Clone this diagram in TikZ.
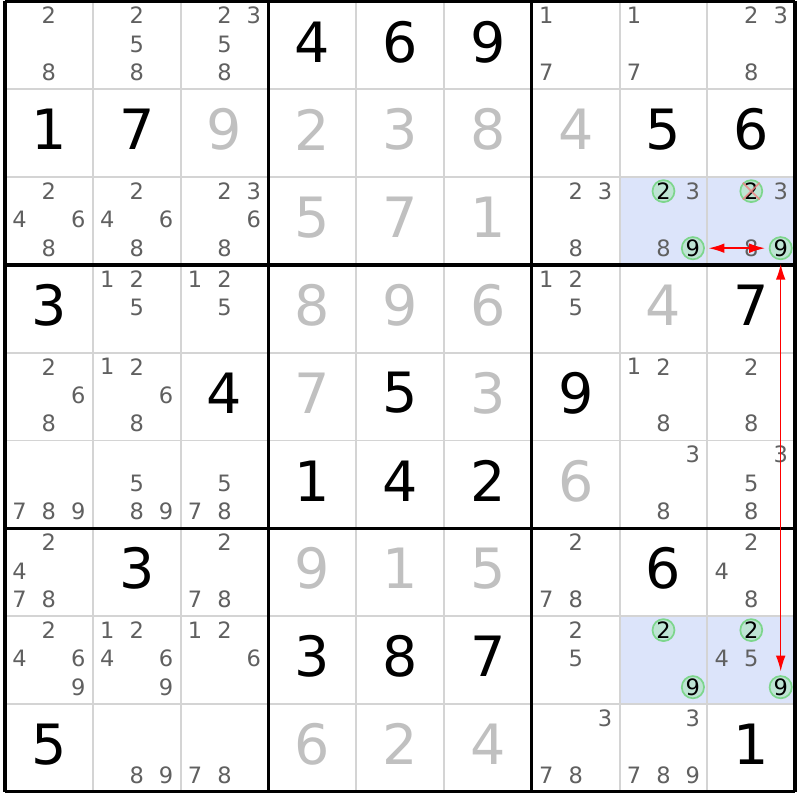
\documentclass[tikz,border=0pt]{standalone}
\usepackage{fontspec}
\setmainfont{DejaVu Sans}
\usetikzlibrary{arrows.meta}
\definecolor{candgray}{RGB}{96,96,96}
\definecolor{solvedgray}{RGB}{192,192,192}
\definecolor{gridgray}{RGB}{212,212,212}
\definecolor{pickblue}{RGB}{220,228,250}
\definecolor{ringgreen}{RGB}{125,214,140}
\definecolor{ringfill}{RGB}{190,228,212}
\definecolor{crossred}{RGB}{240,130,130}

\begin{document}
\begin{tikzpicture}[x=1cm,y=-1cm,
	given/.style={font=\fontsize{18}{18}\selectfont,inner sep=0pt},
	solved/.style={given,text=solvedgray},
	cand/.style={font=\fontsize{7.3}{7.3}\selectfont,text=candgray,inner sep=0pt},
	ring/.style={circle,draw=ringgreen,fill=ringfill,line width=0.55pt,minimum size=0.25cm,inner sep=0pt,font=\fontsize{7.3}{7.3}\selectfont},
	cellline/.style={gridgray,line width=0.6pt},
	boxline/.style={black,line width=1.1pt},
	link/.style={red,line width=0.5pt,>={Latex[length=1.8mm,width=1.1mm]},shorten >=1.2pt,shorten <=1.2pt}]
	\path[use as bounding box,fill=white] (-0.057,-0.017) rectangle (9.055,9.094);
	% highlighted cells
	\foreach \r/\c in {3/8,3/9,8/8,8/9}
		\fill[pickblue] (\c-1,\r-1) rectangle (\c,\r);
	% grid
	\foreach \i in {1,...,8} {
		\draw[cellline] (\i,0) -- (\i,9);
		\draw[cellline] (0,\i) -- (9,\i);
	}
	\foreach \i in {0,3,6,9} {
		\draw[boxline] (\i,0) -- (\i,9);
		\draw[boxline] (0,\i) -- (9,\i);
	}
	% givens and solved cells
	\foreach \r/\c/\d in {1/4/4,1/5/6,1/6/9,2/1/1,2/2/7,2/8/5,2/9/6,4/1/3,4/9/7,5/3/4,5/5/5,5/7/9,
		6/4/1,6/5/4,6/6/2,7/2/3,7/8/6,8/4/3,8/5/8,8/6/7,9/1/5,9/9/1}
		\node[given] (c\r\c) at (\c-0.5,\r-0.54) {\d};
	\foreach \r/\c/\d in {2/3/9,2/4/2,2/5/3,2/6/8,2/7/4,3/4/5,3/5/7,3/6/1,4/4/8,4/5/9,4/6/6,4/8/4,
		5/4/7,5/6/3,6/7/6,7/4/9,7/5/1,7/6/5,9/4/6,9/5/2,9/6/4}
		\node[solved] (c\r\c) at (\c-0.5,\r-0.54) {\d};
	% candidates
	\foreach \r/\c/\L in {1/1/{2,8},1/2/{2,5,8},1/3/{2,3,5,8},1/7/{1,7},1/8/{1,7},1/9/{2,3,8},
		3/1/{2,4,6,8},3/2/{2,4,6,8},3/3/{2,3,6,8},3/7/{2,3,8},3/8/{2,3,8,9},3/9/{2,3,8,9},
		4/2/{1,2,5},4/3/{1,2,5},4/7/{1,2,5},
		5/1/{2,6,8},5/2/{1,2,6,8},5/8/{1,2,8},5/9/{2,8},
		6/1/{7,8,9},6/2/{5,8,9},6/3/{5,7,8},6/8/{3,8},6/9/{3,5,8},
		7/1/{2,4,7,8},7/3/{2,7,8},7/7/{2,7,8},7/9/{2,4,8},
		8/1/{2,4,6,9},8/2/{1,2,4,6,9},8/3/{1,2,6},8/7/{2,5},8/8/{2,9},8/9/{2,4,5,9},
		9/2/{8,9},9/3/{7,8},9/7/{3,7,8},9/8/{3,7,8,9}}
		\foreach \n in \L {
			\pgfmathsetmacro\cx{\c-1+0.165+0.335*mod(\n-1,3)}
			\pgfmathsetmacro\cy{\r-1+0.16+0.325*floor((\n-1)/3)}
			\node[cand] (c\r\c-\n) at (\cx,\cy) {\n};
		}
	% marked candidates
	\foreach \r/\c/\n in {3/8/2,3/8/9,3/9/2,3/9/9,8/8/2,8/8/9,8/9/2,8/9/9}
		\node[ring] (ring\r\c-\n) at (c\r\c-\n) {\n};
	\draw[crossred,line width=0.6pt,opacity=0.8]
		(ring39-2.north west) -- (ring39-2.south east)
		(ring39-2.north east) -- (ring39-2.south west);
	\path[link,<->]
		(ring38-9) edge (ring39-9)
		(ring39-9) edge (ring89-9);
\end{tikzpicture}
\end{document}
